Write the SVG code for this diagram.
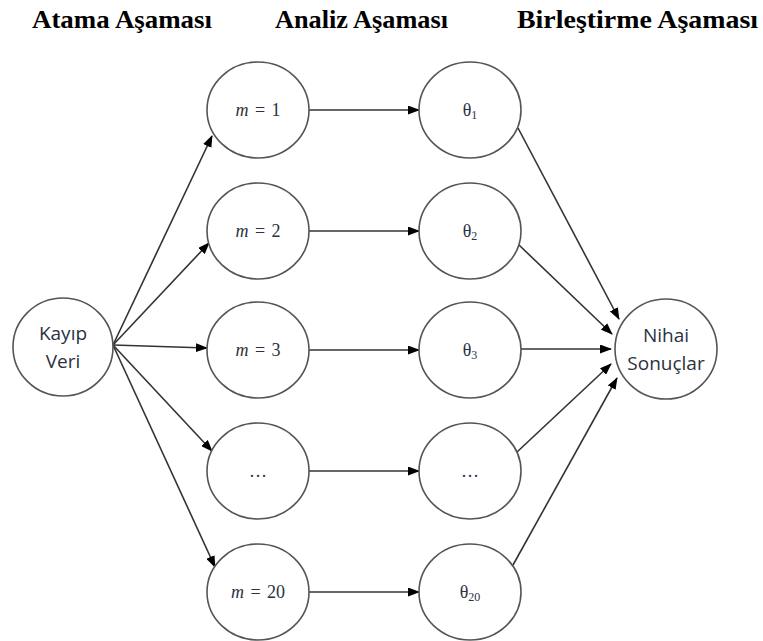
<svg xmlns="http://www.w3.org/2000/svg" width="763" height="641" viewBox="0 0 763 641">
<style>
.title{font-family:"Liberation Serif","Times New Roman",serif;font-weight:bold;font-size:26px;fill:#000}
.node ellipse{fill:#fff;stroke:#555;stroke-width:1.6}
.sans{font-family:"Open Sans","Noto Sans",sans-serif;font-size:19px;fill:#2b3140;text-anchor:middle}
.serif{font-family:"Liberation Serif","Times New Roman",serif;font-size:18px;fill:#2b3140;text-anchor:middle}
.sub{font-size:12px}
.edges line{stroke:#333;stroke-width:1.6;marker-end:url(#arr)}
</style>
<defs>
<marker id="arr" markerWidth="12" markerHeight="9" refX="11" refY="4.5" orient="auto" markerUnits="userSpaceOnUse">
<path d="M0,0 L12,4.5 L0,9 Z" fill="#000"/>
</marker>
</defs>
<rect width="763" height="641" fill="#fff"/>
<g id="titles">
<text class="title" x="32" y="28" textLength="180" lengthAdjust="spacingAndGlyphs">Atama Aşaması</text>
<text class="title" x="275" y="28" textLength="173" lengthAdjust="spacingAndGlyphs">Analiz Aşaması</text>
<text class="title" x="517" y="28" textLength="241" lengthAdjust="spacingAndGlyphs">Birleştirme Aşaması</text>
</g>
<g class="edges" id="connectors">
<line x1="113" y1="345" x2="212" y2="136"/>
<line x1="113" y1="345" x2="209" y2="243"/>
<line x1="113" y1="345" x2="207" y2="348"/>
<line x1="113" y1="345" x2="212" y2="451"/>
<line x1="113" y1="345" x2="215" y2="567"/>
<line x1="309" y1="110" x2="419" y2="110"/>
<line x1="309" y1="231" x2="419" y2="231"/>
<line x1="309" y1="350" x2="419" y2="350"/>
<line x1="309" y1="471" x2="419" y2="471"/>
<line x1="309" y1="592" x2="419" y2="592"/>
<line x1="518" y1="128" x2="619" y2="319"/>
<line x1="519" y1="245" x2="612" y2="334"/>
<line x1="521" y1="349" x2="611" y2="349"/>
<line x1="517" y1="452" x2="611" y2="364"/>
<line x1="513" y1="565" x2="617" y2="378"/>
</g>
<g class="node" id="kayip">
<ellipse cx="63" cy="347" rx="50" ry="49"/>
<text class="sans" x="63" y="340">Kayıp</text>
<text class="sans" x="63" y="368">Veri</text>
</g>
<g class="node" id="m1"><ellipse cx="258" cy="110" rx="51" ry="48"/><text class="serif" x="258" y="116" word-spacing="2"><tspan font-style="italic">m</tspan> = 1</text></g>
<g class="node" id="m2"><ellipse cx="258" cy="231" rx="51" ry="48"/><text class="serif" x="258" y="237" word-spacing="2"><tspan font-style="italic">m</tspan> = 2</text></g>
<g class="node" id="m3"><ellipse cx="258" cy="350" rx="51" ry="48"/><text class="serif" x="258" y="356" word-spacing="2"><tspan font-style="italic">m</tspan> = 3</text></g>
<g class="node" id="mdots"><ellipse cx="258" cy="471" rx="51" ry="48"/><text class="serif" x="258" y="477">…</text></g>
<g class="node" id="m20"><ellipse cx="258" cy="592" rx="51" ry="48"/><text class="serif" x="258" y="598" word-spacing="2"><tspan font-style="italic">m</tspan> = 20</text></g>
<g class="node" id="t1"><ellipse cx="470" cy="110" rx="51" ry="48"/><text class="serif" x="470" y="116">θ<tspan class="sub" dy="3">1</tspan></text></g>
<g class="node" id="t2"><ellipse cx="470" cy="231" rx="51" ry="48"/><text class="serif" x="470" y="237">θ<tspan class="sub" dy="3">2</tspan></text></g>
<g class="node" id="t3"><ellipse cx="470" cy="350" rx="51" ry="48"/><text class="serif" x="470" y="356">θ<tspan class="sub" dy="3">3</tspan></text></g>
<g class="node" id="tdots"><ellipse cx="470" cy="471" rx="51" ry="48"/><text class="serif" x="470" y="477">…</text></g>
<g class="node" id="t20"><ellipse cx="470" cy="592" rx="51" ry="48"/><text class="serif" x="470" y="598">θ<tspan class="sub" dy="3">20</tspan></text></g>
<g class="node" id="nihai">
<ellipse cx="666" cy="349" rx="51" ry="50"/>
<text class="sans" x="666" y="342">Nihai</text>
<text class="sans" x="666" y="370">Sonuçlar</text>
</g>
</svg>
